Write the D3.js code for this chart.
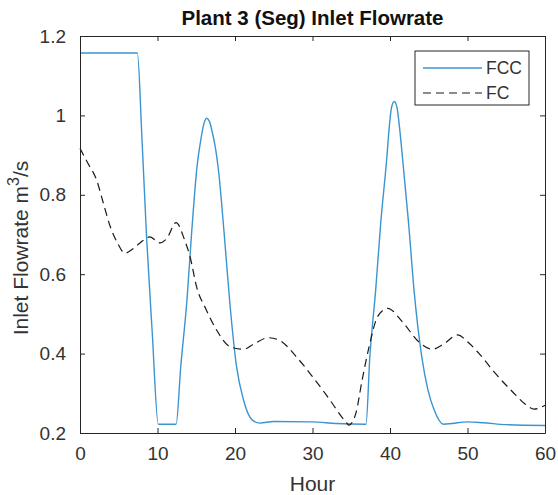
<!DOCTYPE html>
<html>
<head>
<meta charset="utf-8">
<script src="https://cdn.jsdelivr.net/npm/d3@7"></script>
<style>
  body { margin: 0; background: #fff; }
  text { font-family: "Liberation Sans", Arial, sans-serif; }
</style>
</head>
<body>
<div id="chart"></div>
<script>
// hours and values
const fccHours = [0, 7.4, 8.0, 8.6, 9.3, 10.1, 12.4, 13.0, 13.8, 14.4, 15.1, 15.6, 16.0, 16.35, 16.7, 17.1, 17.5, 17.85, 18.6, 19.3, 20.2, 21.1, 22.2, 23.2, 25, 30, 33, 36.9, 37.4, 38.15, 38.8, 39.6, 39.9, 40.2, 40.55, 40.9, 41.2, 41.6, 42.4, 43.1, 44.1, 44.9, 45.7, 46.9, 48, 50, 52, 55, 60];
const fccValues = [1.157, 1.157, 0.94, 0.69, 0.46, 0.222, 0.222, 0.367, 0.535, 0.703, 0.871, 0.94, 0.98, 0.993, 0.985, 0.955, 0.915, 0.865, 0.703, 0.535, 0.367, 0.283, 0.233, 0.225, 0.229, 0.228, 0.224, 0.222, 0.392, 0.56, 0.728, 0.896, 0.97, 1.02, 1.035, 1.02, 0.975, 0.896, 0.728, 0.56, 0.392, 0.308, 0.258, 0.222, 0.224, 0.228, 0.226, 0.221, 0.219];

const fcHours = [0, 1, 2.15, 3.0, 3.9, 4.8, 5.8, 6.7, 7.7, 9.0, 10.3, 11.2, 12.4, 13.5, 14.2, 15.05, 16.3, 17.6, 19.4, 21.1, 22.5, 24.3, 25.7, 28, 30, 32, 34.3, 34.7, 35.6, 36.4, 37.3, 38.4, 39.7, 41.6, 43.7, 45.5, 47, 48.7, 50, 51.5, 53.6, 55.8, 57.5, 58.6, 60];
const fcValues = [0.917, 0.88, 0.837, 0.78, 0.72, 0.68, 0.653, 0.662, 0.678, 0.694, 0.679, 0.69, 0.73, 0.686, 0.644, 0.568, 0.51, 0.46, 0.417, 0.411, 0.425, 0.44, 0.434, 0.39, 0.342, 0.29, 0.228, 0.22, 0.25, 0.333, 0.417, 0.493, 0.514, 0.48, 0.43, 0.411, 0.425, 0.447, 0.43, 0.40, 0.35, 0.304, 0.272, 0.26, 0.27];

const xTicks = [0, 10, 20, 30, 40, 50, 60];
const yTicks = [0.2, 0.4, 0.6, 0.8, 1, 1.2];
const seriesNames = ["FCC", "FC"];

const W = 558, H = 495;
const margin = { top: 36, right: 13, bottom: 62, left: 80 };
const width = W - margin.left - margin.right;
const height = H - margin.top - margin.bottom;

const svg = d3.select("#chart").append("svg")
  .attr("width", W)
  .attr("height", H);

const g = svg.append("g")
  .attr("transform", `translate(${margin.left},${margin.top})`);

const x = d3.scaleLinear().domain([0, 60]).range([0, width]);
const y = d3.scaleLinear().domain([0.2, 1.2]).range([height, 0]);

const axisColor = "#262626";

// lines
const line = d3.line().x(d => x(d[0])).y(d => y(d[1])).curve(d3.curveMonotoneX);
const fcc = fccHours.map((h, i) => [h, fccValues[i]]);
const fc = fcHours.map((h, i) => [h, fcValues[i]]);

g.append("path")
  .datum(fcc)
  .attr("fill", "none")
  .attr("stroke", "#3a95cf")
  .attr("stroke-width", 1.4)
  .attr("d", line);

g.append("path")
  .datum(fc)
  .attr("fill", "none")
  .attr("stroke", "#1a1a1a")
  .attr("stroke-width", 1.2)
  .attr("stroke-dasharray", "8,5")
  .attr("d", line);

// axes (ticks inside, box all round)
const fmt = d => d3.format("~g")(d);
g.append("g")
  .attr("transform", `translate(0,${height})`)
  .call(d3.axisBottom(x).tickValues(xTicks).tickSizeInner(-5).tickSizeOuter(0).tickPadding(14).tickFormat(fmt));
g.append("g")
  .call(d3.axisTop(x).tickValues(xTicks).tickSizeInner(-5).tickSizeOuter(0).tickFormat(""));
g.append("g")
  .call(d3.axisLeft(y).tickValues(yTicks).tickSizeInner(-5).tickSizeOuter(0).tickPadding(14).tickFormat(fmt));
g.append("g")
  .attr("transform", `translate(${width},0)`)
  .call(d3.axisRight(y).tickValues(yTicks).tickSizeInner(-5).tickSizeOuter(0).tickFormat(""));

g.selectAll(".domain").attr("stroke", axisColor);
g.selectAll(".tick line").attr("stroke", axisColor);
g.selectAll(".tick text")
  .attr("fill", "#333")
  .style("font-size", "19px")
  .style("font-family", "'Liberation Sans', Arial, sans-serif");

// title
svg.append("text")
  .attr("x", margin.left + width / 2)
  .attr("y", 25)
  .attr("text-anchor", "middle")
  .style("font-size", "20.5px")
  .style("font-weight", "bold")
  .attr("fill", "#111")
  .text("Plant 3 (Seg) Inlet Flowrate");

// x label
svg.append("text")
  .attr("x", margin.left + width / 2)
  .attr("y", 491)
  .attr("text-anchor", "middle")
  .style("font-size", "21px")
  .attr("fill", "#333")
  .text("Hour");

// y label with superscript
const yl = svg.append("text")
  .attr("transform", `translate(28,${248}) rotate(-90)`)
  .attr("text-anchor", "middle")
  .style("font-size", "21px")
  .attr("fill", "#333");
yl.append("tspan").text("Inlet Flowrate m");
yl.append("tspan").attr("dy", -9).style("font-size", "16px").text("3");
yl.append("tspan").attr("dy", 9).text("/s");

// legend
const legend = svg.append("g").attr("transform", "translate(415,51)");
legend.append("rect")
  .attr("width", 114)
  .attr("height", 54)
  .attr("fill", "#fff")
  .attr("stroke", axisColor)
  .attr("stroke-width", 1);

const legendStyles = [
  { color: "#3a95cf", dash: null, w: 1.4 },
  { color: "#1a1a1a", dash: "8,5", w: 1.2 }
];
seriesNames.forEach((name, i) => {
  const ly = 17 + i * 25;
  legend.append("line")
    .attr("x1", 8).attr("x2", 67)
    .attr("y1", ly).attr("y2", ly)
    .attr("stroke", legendStyles[i].color)
    .attr("stroke-width", legendStyles[i].w)
    .attr("stroke-dasharray", legendStyles[i].dash);
  legend.append("text")
    .attr("x", 71)
    .attr("y", ly + 6)
    .style("font-size", "17.5px")
    .attr("fill", "#333")
    .text(name);
});
</script>
</body>
</html>
